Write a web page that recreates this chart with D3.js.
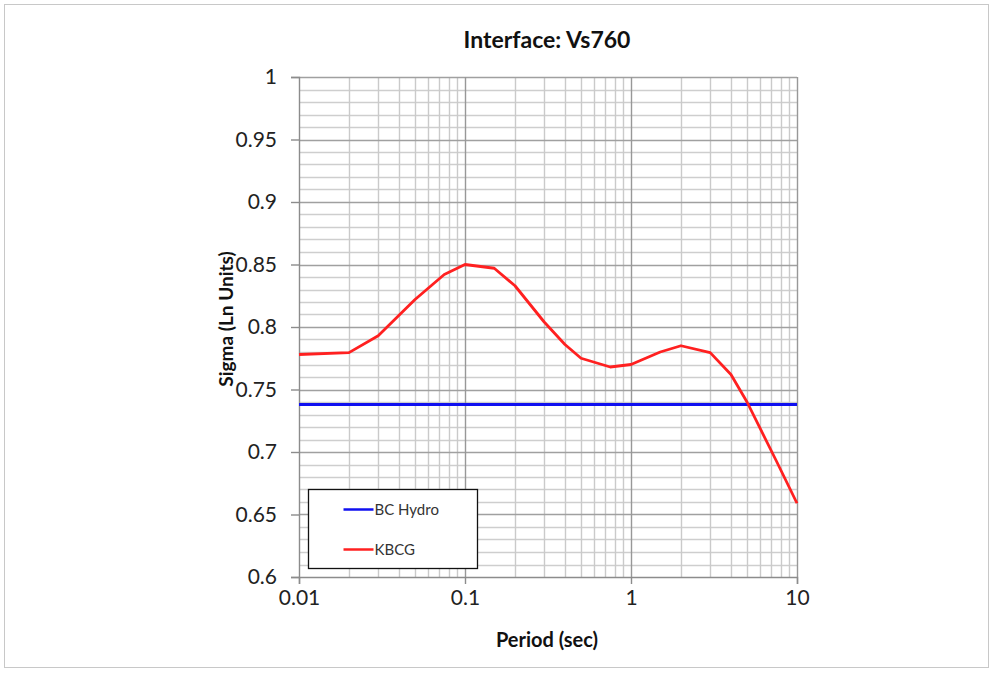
<!DOCTYPE html>
<html>
<head>
<meta charset="utf-8">
<script src="https://cdn.jsdelivr.net/npm/d3@7"></script>
<style>
  body { margin: 0; background: #fff; }
  svg { display: block; font-family: Lato, "Open Sans", sans-serif; }
</style>
</head>
<body>
<script>
'use strict';

const width = 993;
const height = 675;
const margin = { top: 77, right: 196, bottom: 98, left: 299 };

// period (sec) for each sigma value
const periods = [0.01, 0.02, 0.03, 0.05, 0.075, 0.1, 0.15, 0.2, 0.3, 0.4, 0.5, 0.75, 1, 1.5, 2, 3, 4, 5, 7.5, 10];
const kbcg = [0.778, 0.7795, 0.793, 0.822, 0.842, 0.850, 0.847, 0.833, 0.804, 0.786, 0.775, 0.768, 0.770, 0.780, 0.785, 0.7795, 0.762, 0.740, 0.693, 0.659];
const bcHydroPeriods = [0.01, 10];
const bcHydro = [0.738, 0.738];

const xTicks = [0.01, 0.1, 1, 10];
const yTicks = [0.6, 0.65, 0.7, 0.75, 0.8, 0.85, 0.9, 0.95, 1];

const series = [
  { name: 'BC Hydro', color: '#1010f0', x: bcHydroPeriods, y: bcHydro },
  { name: 'KBCG', color: '#ff2020', x: periods, y: kbcg }
];

const svg = d3.select('body')
  .append('svg')
  .attr('width', width)
  .attr('height', height);

// outer frame
svg.append('rect')
  .attr('x', 4.5).attr('y', 4.5)
  .attr('width', 984).attr('height', 663)
  .attr('fill', 'none')
  .attr('stroke', '#c8c8c8');

const plotW = width - margin.left - margin.right;
const plotH = height - margin.top - margin.bottom;

const xScale = d3.scaleLog()
  .domain([0.01, 10])
  .range([0, plotW]);

const yScale = d3.scaleLinear()
  .domain([0.6, 1])
  .range([plotH, 0]);

const g = svg.append('g')
  .attr('transform', `translate(${margin.left}, ${margin.top})`);

// minor grid: every 0.01 and 2..9 within each decade
const yMinor = d3.range(61, 100).map((d) => d / 100).filter((d) => Math.round(d * 100) % 5 !== 0);
const xMinor = [];
[0.01, 0.1, 1].forEach((dec) => {
  for (let k = 2; k <= 9; k++) xMinor.push(dec * k);
});

g.selectAll('line.ymin')
  .data(yMinor)
  .enter()
  .append('line')
  .attr('x1', 0).attr('x2', plotW)
  .attr('y1', (d) => Math.round(yScale(d)) + 0.5)
  .attr('y2', (d) => Math.round(yScale(d)) + 0.5)
  .attr('stroke', '#cecece')
  .attr('stroke-width', 1.4);

g.selectAll('line.xmin')
  .data(xMinor)
  .enter()
  .append('line')
  .attr('y1', 0).attr('y2', plotH)
  .attr('x1', (d) => Math.round(xScale(d)) + 0.5)
  .attr('x2', (d) => Math.round(xScale(d)) + 0.5)
  .attr('stroke', '#cacaca')
  .attr('stroke-width', 1.4);

// major grid
g.selectAll('line.ymaj')
  .data(yTicks.slice(1))
  .enter()
  .append('line')
  .attr('x1', 0).attr('x2', plotW)
  .attr('y1', (d) => Math.round(yScale(d)) + 0.5)
  .attr('y2', (d) => Math.round(yScale(d)) + 0.5)
  .attr('stroke', '#a0a0a0')
  .attr('stroke-width', 1.4);

g.selectAll('line.xmaj')
  .data(xTicks.slice(1))
  .enter()
  .append('line')
  .attr('y1', 0).attr('y2', plotH)
  .attr('x1', (d) => Math.round(xScale(d)) + 0.5)
  .attr('x2', (d) => Math.round(xScale(d)) + 0.5)
  .attr('stroke', '#989898')
  .attr('stroke-width', 1.4);

// axes
const xAxis = d3.axisBottom(xScale)
  .tickValues(xTicks)
  .tickFormat(d3.format('~g'))
  .tickSize(7)
  .tickPadding(6);

const yAxis = d3.axisLeft(yScale)
  .tickValues(yTicks)
  .tickFormat(d3.format('~g'))
  .tickSize(8)
  .tickPadding(14);

const gx = g.append('g')
  .attr('transform', `translate(0, ${plotH})`)
  .call(xAxis);

const gy = g.append('g')
  .call(yAxis);

[gx, gy].forEach((ax) => {
  ax.select('.domain').attr('stroke', '#8c8c8c').attr('stroke-width', 1.4);
  ax.selectAll('.tick line').attr('stroke', '#8c8c8c').attr('stroke-width', 1.4);
  ax.selectAll('.tick text')
    .attr('font-family', 'Lato, "Open Sans", sans-serif')
    .attr('font-size', '21px')
    .attr('fill', '#222');
});

// series lines
const line = d3.line()
  .x((d) => xScale(d[0]))
  .y((d) => yScale(d[1]));

series.forEach((s) => {
  g.append('path')
    .datum(s.x.map((x, i) => [x, s.y[i]]))
    .attr('d', line)
    .attr('fill', 'none')
    .attr('stroke', s.color)
    .attr('stroke-width', 2.8)
    .attr('stroke-linejoin', 'round');
});

// legend
const legend = svg.append('g')
  .attr('transform', 'translate(308.5, 489.5)');

legend.append('rect')
  .attr('width', 169)
  .attr('height', 79)
  .attr('fill', '#fff')
  .attr('stroke', '#111')
  .attr('stroke-width', 1.3);

legend.selectAll('g.item')
  .data(series)
  .enter()
  .append('g')
  .attr('transform', (d, i) => `translate(35, ${20 + i * 40})`)
  .each(function(d) {
    const item = d3.select(this);
    item.append('line')
      .attr('x1', 0).attr('x2', 30)
      .attr('stroke', d.color)
      .attr('stroke-width', 2.5);
    item.append('text')
      .attr('x', 31)
      .attr('dy', '0.35em')
      .attr('font-size', '15px')
      .attr('fill', '#333')
      .text(d.name);
  });

// titles
svg.append('text')
  .attr('x', 547)
  .attr('y', 48)
  .attr('text-anchor', 'middle')
  .attr('font-size', '23px')
  .attr('font-weight', 'bold')
  .attr('fill', '#111')
  .text('Interface: Vs760');

svg.append('text')
  .attr('x', 547)
  .attr('y', 647)
  .attr('text-anchor', 'middle')
  .attr('font-size', '20px')
  .attr('font-weight', 'bold')
  .attr('fill', '#111')
  .text('Period (sec)');

svg.append('text')
  .attr('transform', 'translate(233, 319) rotate(-90)')
  .attr('text-anchor', 'middle')
  .attr('font-size', '19px')
  .attr('font-weight', 'bold')
  .attr('fill', '#111')
  .text('Sigma (Ln Units)');
</script>
</body>
</html>
